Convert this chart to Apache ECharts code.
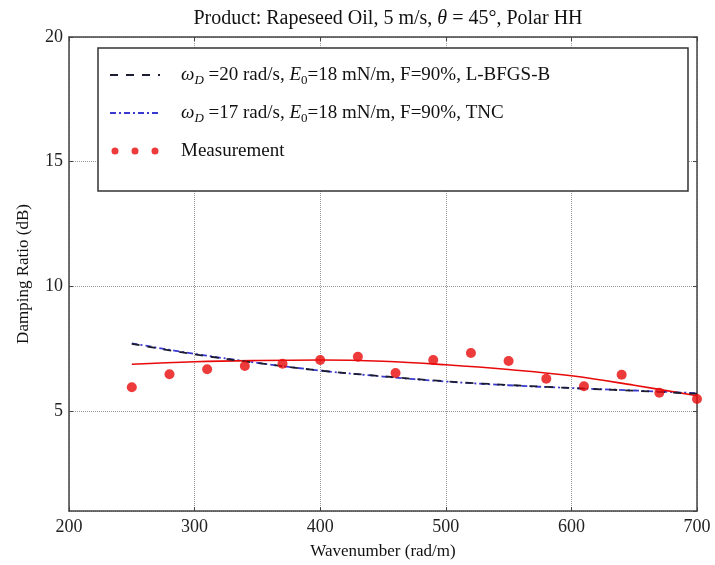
<!DOCTYPE html>
<html>
<head>
<meta charset="utf-8">
<script src="https://cdn.jsdelivr.net/npm/echarts@6/dist/echarts.min.js"></script>
<style>
html,body{margin:0;padding:0;background:#fff;}
#main{width:715px;height:565px;}
</style>
</head>
<body>
<div id="main"></div>
<script>
// ---- data ----
var curveK = [250, 300, 350, 400, 450, 500, 550, 600, 650, 700];
var lbfgsVals = [7.70, 7.28, 6.93, 6.63, 6.40, 6.20, 6.05, 5.93, 5.82, 5.70];
var tncVals = [7.72, 7.30, 6.94, 6.63, 6.39, 6.19, 6.04, 5.93, 5.83, 5.72];
var fitVals = [6.88, 6.98, 7.03, 7.05, 7.00, 6.86, 6.67, 6.42, 6.04, 5.62];
var measK = [250, 280, 310, 340, 370, 400, 430, 460, 490, 520, 550, 580, 610, 640, 670, 700];
var measVals = [5.96, 6.48, 6.68, 6.81, 6.90, 7.05, 7.18, 6.53, 7.05, 7.33, 7.01, 6.30, 6.00, 6.46, 5.74, 5.49];
var xTicks = [200, 300, 400, 500, 600, 700];
var yTicks = [5, 10, 15, 20];

var nameL = 'L-BFGS-B';
var nameT = 'TNC';
var nameM = 'Measurement';

function pairs(xs, ys) { return xs.map(function (x, i) { return [x, ys[i]]; }); }

var FONT = '"Liberation Serif", "DejaVu Serif", serif';
var frameColor = '#444';
var RED = '#e80a0a';

var chart = echarts.init(document.getElementById('main'), null, {renderer: 'canvas'});

var baseX = {
  type: 'value', min: xTicks[0], max: xTicks[xTicks.length - 1], interval: 100,
  axisLine: {show: true, onZero: false, lineStyle: {color: frameColor, width: 1.5}},
  axisTick: {show: true, inside: true, length: 4, lineStyle: {color: frameColor, width: 1}}
};
var baseY = {
  type: 'value', min: 1, max: yTicks[yTicks.length - 1], splitNumber: 4,
  axisLine: {show: true, onZero: false, lineStyle: {color: frameColor, width: 1.5}},
  axisTick: {show: true, inside: true, length: 4, lineStyle: {color: frameColor, width: 1}}
};

var option = {
  backgroundColor: '#fff',
  animation: false,
  title: {
    text: 'Product: Rapeseed Oil, 5 m/s, {i|θ} = 45°, Polar HH',
    left: 383, textAlign: 'center', top: 4,
    textStyle: {
      fontFamily: FONT, fontSize: 20, fontWeight: 'normal', color: '#111',
      rich: {i: {fontFamily: FONT, fontSize: 20, fontStyle: 'italic', color: '#111'}}
    }
  },
  grid: {left: 69, right: 18, top: 37, bottom: 54, containLabel: false},
  graphic: [{
    type: 'rect', z: 3,
    shape: {x: 98, y: 48, width: 590, height: 143},
    style: {fill: '#fff', stroke: '#333', lineWidth: 1.5}
  }],
  legend: {
    orient: 'vertical', left: 104, top: 58, z: 5,
    itemWidth: 50, itemHeight: 12, itemGap: 14,
    formatter: function (n) {
      if (n === nameL) return '{i|ω}{sub|D} =20 rad/s, {i|E}{sub0|0}=18 mN/m, F=90%, L-BFGS-B';
      if (n === nameT) return '{i|ω}{sub|D} =17 rad/s, {i|E}{sub0|0}=18 mN/m, F=90%, TNC';
      return 'Measurement';
    },
    textStyle: {
      fontFamily: FONT, fontSize: 19, color: '#111', padding: [0, 0, 0, 16], lineHeight: 24,
      rich: {
        i: {fontFamily: FONT, fontSize: 19, fontStyle: 'italic', color: '#111'},
        sub: {fontFamily: FONT, fontSize: 13, fontStyle: 'italic', color: '#111', verticalAlign: 'bottom', padding: [8, 0, 0, 0]},
        sub0: {fontFamily: FONT, fontSize: 13, color: '#111', verticalAlign: 'bottom', padding: [8, 0, 0, 0]}
      }
    }
  },
  xAxis: [
    Object.assign({}, baseX, {
      position: 'bottom',
      name: 'Wavenumber (rad/m)', nameLocation: 'middle', nameGap: 32,
      nameTextStyle: {fontFamily: FONT, fontSize: 17, color: '#111'},
      axisLabel: {show: true, fontFamily: FONT, fontSize: 18, color: '#222', margin: 7},
      splitLine: {show: true, lineStyle: {type: 'dotted', color: '#999', width: 1}}
    }),
    Object.assign({}, baseX, {
      position: 'top', axisLabel: {show: false}, splitLine: {show: false}
    })
  ],
  yAxis: [
    Object.assign({}, baseY, {
      position: 'left',
      name: 'Damping Ratio (dB)', nameLocation: 'middle', nameGap: 37,
      nameTextStyle: {fontFamily: FONT, fontSize: 17, color: '#111'},
      axisLabel: {show: true, showMinLabel: false, fontFamily: FONT, fontSize: 18, color: '#222', margin: 6,
        formatter: function (v) { return yTicks.indexOf(v) >= 0 ? String(v) : ''; }},
      splitLine: {show: true, lineStyle: {type: 'dotted', color: '#999', width: 1}}
    }),
    Object.assign({}, baseY, {
      position: 'right', axisLabel: {show: false}, splitLine: {show: false}
    })
  ],
  series: [
    {
      name: nameT, type: 'line', xAxisIndex: 0, yAxisIndex: 0,
      data: pairs(curveK, tncVals), smooth: 0.4, showSymbol: false, symbol: 'none',
      lineStyle: {color: '#3a3ad0', width: 1.8, type: [6, 3, 2, 3]},
      itemStyle: {color: '#3a3ad0'}, z: 2
    },
    {
      name: nameL, type: 'line', xAxisIndex: 0, yAxisIndex: 0,
      data: pairs(curveK, lbfgsVals), smooth: 0.4, showSymbol: false, symbol: 'none',
      lineStyle: {color: '#1c1c30', width: 1.8, type: [8, 8]},
      itemStyle: {color: '#1c1c30'}, z: 3
    },
    {
      name: 'fit', type: 'line', xAxisIndex: 0, yAxisIndex: 0,
      data: pairs(curveK, fitVals), smooth: 0.4, showSymbol: false, symbol: 'none',
      lineStyle: {color: RED, width: 1.6, type: 'solid'}, z: 2
    },
    {
      name: nameM, type: 'scatter', xAxisIndex: 0, yAxisIndex: 0,
      data: pairs(measK, measVals), symbol: 'circle', symbolSize: 10,
      itemStyle: {color: RED}, z: 4
    }
  ]
};

option.legend.data = [
  {name: nameL, itemStyle: {opacity: 0}},
  {name: nameT, itemStyle: {opacity: 0}},
  {name: nameM, icon: 'path://M1.5,5a3.5,3.5 0 1,0 7,0a3.5,3.5 0 1,0 -7,0M21.5,5a3.5,3.5 0 1,0 7,0a3.5,3.5 0 1,0 -7,0M41.5,5a3.5,3.5 0 1,0 7,0a3.5,3.5 0 1,0 -7,0M0,0L0.01,0M50,10L49.99,10'}
];

chart.setOption(option);
</script>
</body>
</html>
